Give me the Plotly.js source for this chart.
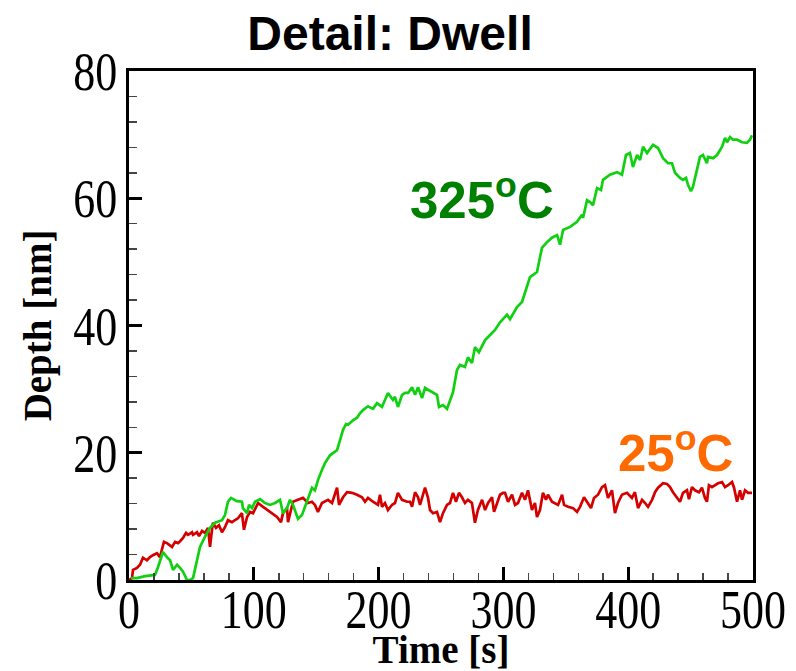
<!DOCTYPE html>
<html>
<head>
<meta charset="utf-8">
<script src="https://cdn.plot.ly/plotly-3.0.1.min.js"></script>
<style>html,body{margin:0;padding:0;background:#fff;}#chart{width:796px;height:671px;}</style>
</head>
<body>
<div id="chart"></div>
<script>
// 325°C series: time [s] and depth [nm]
const hotTime = [1.6,6.4,12.8,20.8,23.2,27.2,30.4,32.9,35.3,38.5,40.9,43.3,46.5,48.9,51.3,54.5,56.9,60.9,64.9,68.9,74.5,76.9,79.3,81.7,86.5,90.5,91.3,94.6,96.2,98.6,101.0,105.0,109.0,113.0,117.0,121.0,123.4,126.6,129.0,131.4,135.4,138.6,141.0,143.4,146.6,149.0,151.4,154.6,157.1,161.1,166.7,169.1,171.5,173.9,175.5,179.5,182.7,185.1,187.5,191.5,195.5,198.7,202.7,207.5,211.5,213.1,215.5,218.8,221.2,223.6,226.8,229.2,231.6,234.8,237.2,239.6,243.6,246.8,248.4,251.6,254.8,258.0,259.6,262.8,265.2,269.2,271.6,274.8,277.2,280.4,285.3,289.3,293.3,297.3,301.3,302.9,305.3,310.9,314.9,318.9,321.3,326.9,329.3,330.9,334.9,338.9,343.0,345.4,347.8,351.0,353.4,359.0,363.0,363.8,367.0,369.4,371.8,375.0,378.2,379.8,385.4,391.0,395.0,398.2,401.4,403.8,407.1,409.5,411.9,415.1,419.9,423.9,427.9,431.9,435.1,437.5,441.5,443.9,446.3,447.9,450.3,451.9,455.1,457.5,459.9,463.1,463.9,468.0,471.2,475.2,477.6,479.2,481.6,484.0,487.2,491.2,495.2,497.6,499.2];
const hotDepth = [0.3,0.3,0.6,0.8,2.0,4.4,3.6,3.1,1.6,2.4,1.9,1.3,0,0,0.3,3.1,5.2,6.8,8.2,9.0,9.4,10.2,12.3,12.9,12.4,12.3,11.3,10.5,11.8,11.3,12.3,12.7,12.1,11.8,12.1,12.6,10.5,11.3,12.6,11.8,9.6,10.2,11.5,13.0,14.5,14.1,15.7,17.3,18.4,19.6,20.4,22.0,23.6,24.5,24.4,25.1,25.5,26.2,26.7,27.3,26.9,27.8,27.2,29.4,28.3,28.8,27.2,29.1,29.4,29.4,30.3,29.1,30.3,28.6,30.2,29.9,29.5,29.1,27.2,27.5,26.9,28.8,29.5,33.0,33.8,33.5,35.0,34.1,36.6,35.8,37.7,38.5,39.3,40.5,41.3,41.7,41.0,42.9,43.7,46.1,47.6,48.4,50.6,52.2,53.1,53.8,54.2,52.7,55.0,55.3,55.5,56.3,57.4,56.9,59.7,59.4,58.9,61.6,61.3,62.9,63.7,64.1,63.7,66.8,67.1,64.9,66.8,66.0,68.1,67.1,68.4,67.9,66.3,65.5,65.5,64.0,63.2,62.9,63.2,62.1,61.1,61.8,64.4,66.5,66.8,65.5,66.5,66.3,66.8,68.1,69.5,68.8,69.6,69.2,69.2,68.8,68.7,69.2,69.9];

// 25°C series: time [s] and depth [nm]
const roomTime = [0,2.4,3.2,6.4,8.8,11.2,14.4,16.8,19.2,22.4,24.8,26.4,28.0,30.4,32.9,34.5,36.9,39.3,40.9,43.3,45.7,47.3,50.5,51.3,54.5,56.1,58.5,60.9,63.3,64.9,66.5,67.3,69.7,72.1,74.5,76.9,79.3,82.5,84.9,87.3,90.5,92.1,94.6,97.0,99.4,103.4,107.4,113.0,118.6,121.8,123.4,126.6,127.4,129.8,131.4,135.4,139.4,143.4,146.6,149.0,151.4,154.6,157.1,159.5,162.7,165.1,166.7,168.3,171.5,174.7,178.7,182.7,186.7,189.1,191.5,195.5,199.5,201.1,202.7,205.1,207.5,210.7,213.1,215.5,218.8,222.8,225.2,226.8,229.2,231.6,233.2,237.2,239.6,241.2,243.6,246.8,249.2,251.6,254.8,257.2,259.6,262.0,264.4,266.8,269.2,271.6,274.8,277.2,279.6,282.9,285.3,287.7,290.9,292.5,294.9,297.3,299.7,301.3,303.7,306.9,309.3,311.7,314.9,317.3,319.7,322.9,325.3,326.9,329.3,331.7,334.1,335.7,338.9,341.3,343.8,347.0,348.6,351.8,355.8,359.0,361.4,364.6,367.0,370.2,372.6,375.8,379.0,381.4,383.8,387.0,389.4,391.8,395.0,399.0,403.0,405.4,407.9,411.1,413.5,415.9,419.1,421.5,423.9,427.9,431.1,433.5,435.9,439.1,441.5,443.9,447.1,448.7,451.1,453.5,456.7,459.1,461.5,463.1,464.7,467.1,469.6,472.0,475.2,477.6,480.0,483.2,484.8,487.2,489.6,491.2,493.6,496.0,499.2];
const roomDepth = [0,0.3,1.6,1.9,2.4,3.5,3.1,3.6,3.9,4.2,3.6,5.0,6.0,5.8,5.5,5.2,6.0,5.8,6.1,6.6,7.4,7.1,7.5,7.1,7.5,6.9,7.7,7.4,8.2,5.2,7.9,9.0,8.2,8.6,7.5,8.3,9.4,9.1,9.4,9.7,10.5,7.9,9.9,10.7,10.5,12.1,11.5,10.7,9.9,9.1,10.5,11.3,9.1,11.0,12.3,12.6,12.9,12.1,12.3,11.8,10.7,12.1,12.3,12.6,12.1,13.7,14.5,11.8,13.0,13.8,13.7,13.4,13.0,12.3,12.9,12.3,11.8,13.4,11.5,12.1,11.0,11.8,12.1,13.7,12.6,12.3,12.3,11.5,13.8,13.0,11.8,14.5,12.9,11.0,10.5,10.7,9.1,10.5,11.8,12.1,13.7,12.3,13.7,13.0,12.1,12.6,12.1,9.0,11.0,12.6,11.0,12.1,13.0,10.7,12.1,13.4,13.7,13.7,12.3,13.4,11.8,12.1,13.7,12.6,14.1,11.0,12.1,9.9,11.0,13.7,12.6,13.4,12.3,12.1,11.8,13.4,11.8,11.5,11.3,10.7,11.5,13.0,12.3,11.3,12.9,13.4,14.6,14.9,12.9,14.1,10.5,12.1,13.4,13.7,12.9,13.8,11.3,12.6,12.1,11.5,12.6,13.8,14.5,15.2,15.1,14.6,13.8,12.9,12.3,13.7,14.1,12.7,14.6,14.1,13.8,14.5,12.9,12.3,14.9,14.6,14.9,15.2,15.4,14.6,14.9,15.4,14.5,12.3,14.1,12.6,14.1,13.7,13.7];

const xTickVals = [0,100,200,300,400,500];
const yTickVals = [0,20,40,60,80];
const titleText = 'Detail: Dwell';
const xTitle = 'Time [s]';
const yTitle = 'Depth [nm]';
const hotLabel = '325<sup>o</sup>C';
const roomLabel = '25<sup>o</sup>C';
const hotLabelPos = [283, 60.2];
const roomLabelPos = [438, 20.4];

const traces = [
  {x: roomTime, y: roomDepth, type: 'scatter', mode: 'lines', line: {color: '#D40000', width: 2.7}, hoverinfo: 'skip'},
  {x: hotTime, y: hotDepth, type: 'scatter', mode: 'lines', line: {color: '#11D011', width: 2.7}, hoverinfo: 'skip'}
];

const serif = '"Liberation Serif", "Times New Roman", serif';
const axisCommon = {
  showgrid: false, zeroline: false,
  showline: true, linecolor: '#000', linewidth: 3, mirror: true,
  ticks: 'inside', ticklen: 13, tickwidth: 3, tickcolor: '#000',
  tickfont: {family: serif, size: 44, color: '#000'}
};

const layout = {
  width: 796, height: 671,
  margin: {l: 129, r: 43, t: 71, b: 91},
  paper_bgcolor: '#fff', plot_bgcolor: '#fff',
  showlegend: false,
  title: {text: '<b>' + titleText + '</b>', x: 0.49, xref: 'container', xanchor: 'center', y: 0.951, yref: 'container', yanchor: 'middle',
          font: {family: '"Liberation Sans", Arial, sans-serif', size: 48, color: '#000'}},
  xaxis: Object.assign({}, axisCommon, {
    range: [0, 500], tickvals: xTickVals, ticktext: xTickVals.map(String),
    minor: {ticks: 'inside', ticklen: 7, tickwidth: 1.5, tickcolor: '#444', dtick: 20, tick0: 0},
    title: {text: '<b>' + xTitle + '</b>', standoff: 0, font: {family: serif, size: 39, color: '#000'}}
  }),
  yaxis: Object.assign({}, axisCommon, {
    range: [0, 80], tickvals: yTickVals, ticktext: yTickVals.map(String),
    minor: {ticks: 'inside', ticklen: 8, tickwidth: 1.5, tickcolor: '#444', dtick: 4, tick0: 0},
    title: {text: '<b>' + yTitle + '</b>', standoff: 10, font: {family: serif, size: 39, color: '#000'}}
  }),
  annotations: [
    {x: hotLabelPos[0], y: hotLabelPos[1], xref: 'x', yref: 'y', text: '<b>' + hotLabel + '</b>', showarrow: false,
     font: {family: '"Liberation Sans", Arial, sans-serif', size: 51, color: '#008000'}},
    {x: roomLabelPos[0], y: roomLabelPos[1], xref: 'x', yref: 'y', text: '<b>' + roomLabel + '</b>', showarrow: false,
     font: {family: '"Liberation Sans", Arial, sans-serif', size: 51, color: '#FF6A00'}}
  ]
};

// Tecplot-style tick labels are drawn vertically stretched; emulate that.
function stretchTicks(selector, scaleY, targetCenterY) {
  document.querySelectorAll(selector).forEach(function (t) {
    const bb = t.getBBox();
    const cx = bb.x + bb.width / 2, cy = bb.y + bb.height / 2;
    let dy = 0;
    if (targetCenterY !== null) {
      const r = t.getBoundingClientRect();
      dy = targetCenterY - (r.top + r.height / 2);
    }
    const base = t.getAttribute('transform') || '';
    t.setAttribute('transform', base + ' translate(0,' + dy + ') translate(' + cx + ',' + cy + ') scale(1,' + scaleY + ') translate(' + (-cx) + ',' + (-cy) + ')');
  });
}

Plotly.newPlot('chart', traces, layout, {staticPlot: true, displayModeBar: false}).then(function () {
  stretchTicks('.xtick text', 1.25, 610);
  stretchTicks('.ytick text', 1.25, null);
});
</script>
</body>
</html>
